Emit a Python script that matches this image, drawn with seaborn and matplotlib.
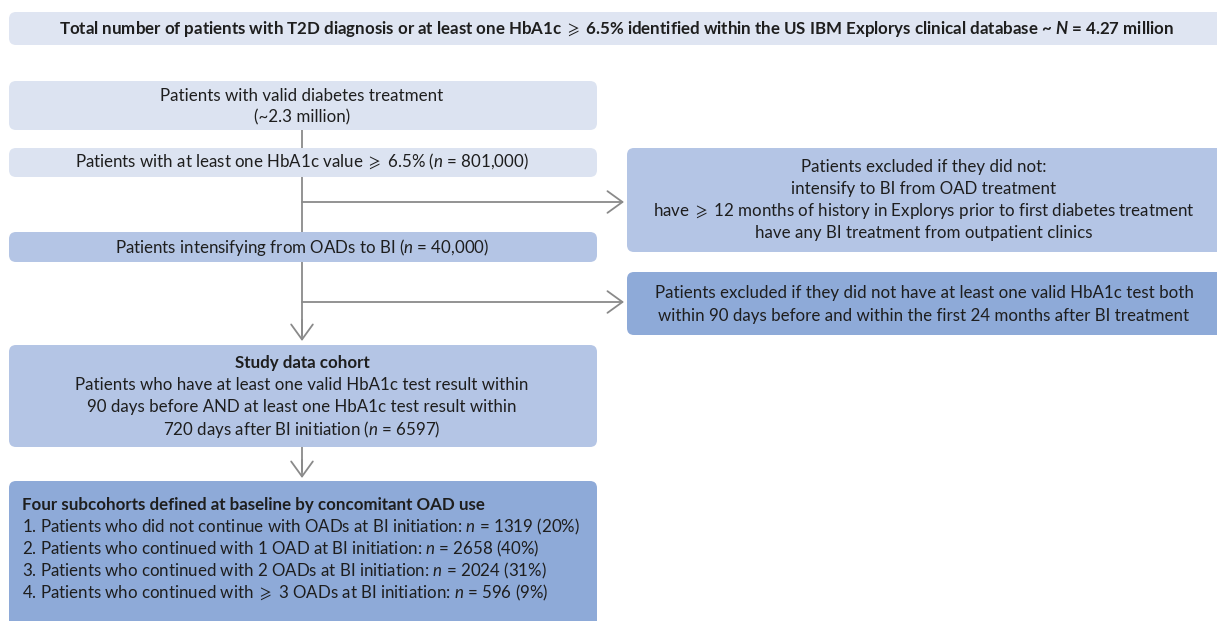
import matplotlib
matplotlib.use("Agg")
import matplotlib.pyplot as plt
from matplotlib.patches import FancyBboxPatch
import seaborn as sns

# ---------------- data ----------------
total_N = "4.27 million"
treated_total = "~2.3 million"
n_hba1c = 801000
n_intensify = 40000
n_study = 6597
exclusion_1 = ["Patients excluded if they did not:",
               "intensify to BI from OAD treatment",
               r"have $\geqslant$ 12 months of history in Explorys prior to first diabetes treatment",
               "have any BI treatment from outpatient clinics"]
exclusion_2 = ["Patients excluded if they did not have at least one valid HbA1c test both",
               "within 90 days before and within the first 24 months after BI treatment"]
sub_labels = ["Patients who did not continue with OADs at BI initiation",
              "Patients who continued with 1 OAD at BI initiation",
              "Patients who continued with 2 OADs at BI initiation",
              r"Patients who continued with $\geqslant$ 3 OADs at BI initiation"]
sub_n = [1319, 2658, 2024, 596]
sub_pct = [20, 40, 31, 9]

# ---------------- style ----------------
sns.set_theme(style="white")
plt.rcParams['font.family'] = ['Lato', 'DejaVu Sans']
plt.rcParams['mathtext.fontset'] = 'custom'
plt.rcParams['mathtext.rm'] = 'Lato'
plt.rcParams['mathtext.it'] = 'Lato:italic'
plt.rcParams['mathtext.bf'] = 'Lato:bold'
plt.rcParams['mathtext.bfit'] = 'Lato:italic:bold'
plt.rcParams['mathtext.fallback'] = 'stixsans'

LIGHT = "#dce3f1"
MID = "#b4c5e5"
DARK = "#8eaad8"
BANNER = "#dfe5f2"
LINE = "#8a8a8a"
TXT = "#1e1e1e"
FS = 12.2

fig = plt.figure(figsize=(12.17, 6.21), dpi=100)
ax = fig.add_axes([0, 0, 1, 1])
ax.set_xlim(0, 1217)
ax.set_ylim(621, 0)
ax.axis("off")


def box(x0, y0, x1, y1, color):
    p = FancyBboxPatch((x0, y0), x1 - x0, y1 - y0,
                       boxstyle="round,pad=0,rounding_size=7",
                       fc=color, ec="none", zorder=2)
    ax.add_patch(p)


def lines(x, ys, texts, ha="center", **kw):
    for y, t in zip(ys, texts):
        ax.text(x, y, t, ha=ha, va="center", fontsize=FS, color=TXT, zorder=3, **kw)


# banner
box(9, 12, 1240, 45, BANNER)
ax.text(617, 29, "Total number of patients with T2D diagnosis or at least one HbA1c "
        r"$\geqslant$ 6.5% identified within the US IBM Explorys clinical database ~ "
        r"$\mathbfit{N}$ = " + total_N,
        ha="center", va="center", fontsize=FS, fontweight="bold", color=TXT)

# connectors
ax.plot([302, 302], [130, 336], color=LINE, lw=1.3, zorder=1, solid_capstyle="butt")
ax.plot([302, 302], [447, 472], color=LINE, lw=1.3, zorder=1, solid_capstyle="butt")
arrow = dict(arrowstyle="->,head_length=0.9,head_width=0.65", color=LINE, lw=1.3,
             shrinkA=0, shrinkB=0)
for (xa, ya), (xb, yb) in [((302, 320), (302, 341)), ((302, 460), (302, 478)),
                           ((302, 202), (624, 202)), ((302, 302), (624, 302))]:
    ax.annotate("", xy=(xb, yb), xytext=(xa, ya), arrowprops=arrow, zorder=1)

# left column boxes
box(9, 81, 597, 130, LIGHT)
lines(302, [96, 117], ["Patients with valid diabetes treatment", "(" + treated_total + ")"])

box(9, 148, 597, 177, LIGHT)
lines(302, [162], [r"Patients with at least one HbA1c value $\geqslant$ 6.5% ($n$ = "
                   + f"{n_hba1c:,})"])

box(9, 232, 597, 262, MID)
lines(302, [247], [r"Patients intensifying from OADs to BI ($n$ = " + f"{n_intensify:,})"])

box(9, 345, 597, 447, MID)
ax.text(302, 363, "Study data cohort", ha="center", va="center", fontsize=FS,
        fontweight="bold", color=TXT, zorder=3)
lines(302, [385, 407, 429],
      ["Patients who have at least one valid HbA1c test result within",
       "90 days before AND at least one HbA1c test result within",
       r"720 days after BI initiation ($n$ = " + f"{n_study})"])

box(9, 481, 597, 650, DARK)
ax.text(22, 505, "Four subcohorts defined at baseline by concomitant OAD use", ha="left",
        va="center", fontsize=FS, fontweight="bold", color=TXT, zorder=3)
sub_texts = [f"{i + 1}. {lab}: " + r"$n$" + f" = {n} ({p}%)"
             for i, (lab, n, p) in enumerate(zip(sub_labels, sub_n, sub_pct))]
lines(22, [527, 549, 571, 593], sub_texts, ha="left")

# right column boxes
box(627, 148, 1240, 252, MID)
lines(924, [167, 189, 211, 233], exclusion_1)

box(627, 272, 1240, 335, DARK)
lines(924, [293, 316], exclusion_2)

fig.savefig("out.png", dpi=100)
